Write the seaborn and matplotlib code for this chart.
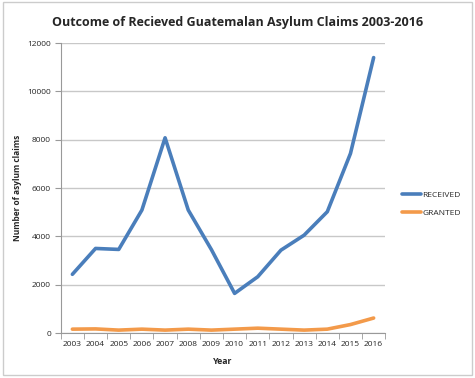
import numpy as np
import seaborn as sns
import pandas as pd
import matplotlib.pyplot as plt
from matplotlib.lines import Line2D
from matplotlib.patches import Rectangle

years = [str(y) for y in range(2003, 2017)]
received = [2430, 3500, 3460, 5090, 8080, 5090, 3450, 1640, 2330, 3430, 4050, 5020, 7430, 11400]
granted = [160, 170, 120, 160, 120, 160, 120, 160, 200, 160, 120, 160, 350, 620]
series_names = ["RECEIVED", "GRANTED"]
colors = ["#4A7EBB", "#F39A4A"]

df = pd.DataFrame({
    "Year": years * 2,
    "claims": received + granted,
    "series": [series_names[0]] * len(years) + [series_names[1]] * len(years),
})

sns.set_style("white")
plt.rcParams['font.family'] = ['Open Sans', 'DejaVu Sans']

fig = plt.figure(figsize=(4.75, 3.78), dpi=100)
ax = fig.add_axes([0.128, 0.119, 0.683, 0.767])

sns.lineplot(data=df, x="Year", y="claims", hue="series", palette=colors,
             linewidth=2.6, legend=False, ax=ax, sort=False)

ax.set_xlim(-0.5, len(years) - 0.5)
ax.set_ylim(0, 12000)
ax.set_yticks(np.arange(0, 12001, 2000))
ax.yaxis.grid(True, color="#c8c8c8", linewidth=1)
ax.xaxis.grid(False)
for side in ["top", "right"]:
    ax.spines[side].set_visible(False)
ax.spines["left"].set_color("#999999")
ax.spines["bottom"].set_color("#999999")

# category-style ticks: labels at centers, tick marks between
ax.set_xticks(range(len(years)))
ax.set_xticklabels(years)
ax.set_xticks(np.arange(-0.5, len(years), 1), minor=True)
ax.tick_params(axis="x", which="major", length=0, labelsize=6, pad=6)
ax.tick_params(axis="x", which="minor", length=4, color="#999999", direction="out")
ax.tick_params(axis="y", length=4, color="#999999", direction="out", labelsize=6, pad=3)
ax.tick_params(bottom=True, left=True, which="both")

ax.set_xlabel("Year", fontsize=6.3, fontweight="bold", labelpad=6)
ax.set_ylabel("Number of asylum claims", fontsize=6, fontweight="bold")
ax.yaxis.set_label_coords(-0.12, 0.5)

fig.text(0.5, 0.94, "Outcome of Recieved Guatemalan Asylum Claims 2003-2016",
         ha="center", va="center", fontsize=9, fontweight="bold")

handles = [Line2D([0], [0], color=c, linewidth=2.6) for c in colors]
fig.legend(handles, series_names, loc="center left", bbox_to_anchor=(0.83, 0.46),
           frameon=False, fontsize=6, handlelength=2.3, handletextpad=0.2,
           labelspacing=1.2)

fig.patches.append(Rectangle((0.006, 0.008), 0.988, 0.988, transform=fig.transFigure,
                             fill=False, edgecolor="#cccccc", linewidth=1))

fig.savefig("out.png", dpi=100)
